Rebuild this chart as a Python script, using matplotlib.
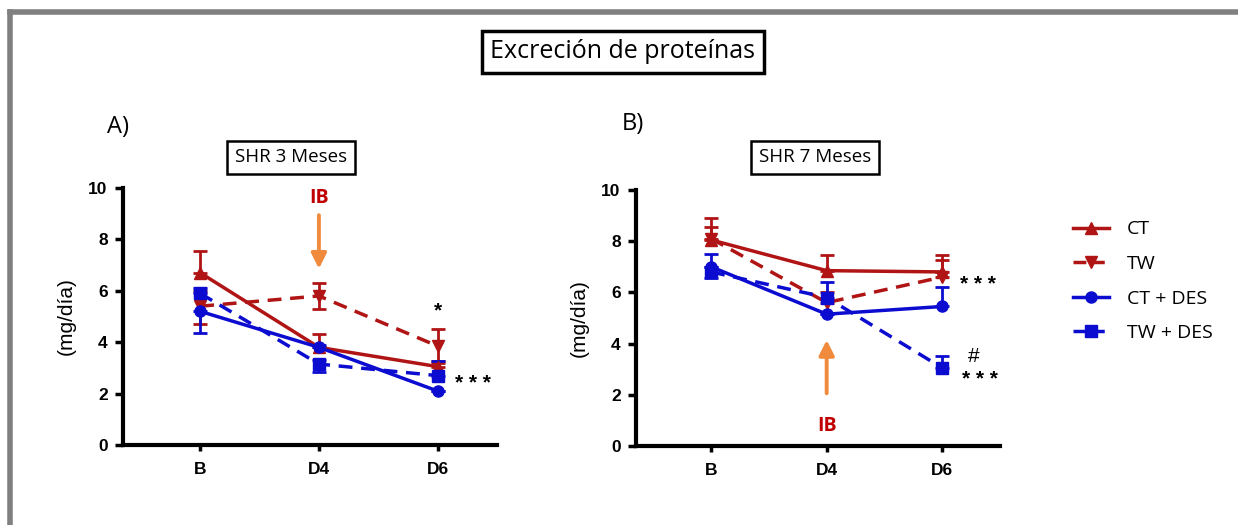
import numpy as np
import matplotlib.pyplot as plt
from matplotlib.lines import Line2D

W, H = 1238, 525
RED = "#b01414"
BLUE = "#0c0cd0"
ORANGE = "#f08a3c"

days = ["B", "D4", "D6"]
groups = ["CT", "TW", "CT + DES", "TW + DES"]

# panel A: SHR 3 meses
a_ct = [6.7, 3.8, 3.05]
a_ct_lo = [0.0, 0.0, 0.0]
a_ct_hi = [0.85, 0.5, 0.2]
a_tw = [5.4, 5.8, 3.85]
a_tw_lo = [0.7, 0.5, 0.65]
a_tw_hi = [0.6, 0.5, 0.65]
a_ctd = [5.2, 3.8, 2.1]
a_ctd_lo = [0.85, 0.0, 0.0]
a_ctd_hi = [0.0, 0.1, 0.0]
a_twd = [5.9, 3.15, 2.7]
a_twd_lo = [0.0, 0.3, 0.0]
a_twd_hi = [0.2, 0.15, 0.55]

# panel B: SHR 7 meses
b_ct = [8.05, 6.85, 6.8]
b_ct_lo = [0.0, 0.0, 0.0]
b_ct_hi = [0.85, 0.6, 0.65]
b_tw = [8.1, 5.6, 6.6]
b_tw_lo = [0.0, 0.0, 0.0]
b_tw_hi = [0.45, 0.4, 0.65]
b_ctd = [7.0, 5.15, 5.45]
b_ctd_lo = [0.0, 0.0, 0.0]
b_ctd_hi = [0.5, 0.0, 0.75]
b_twd = [6.8, 5.8, 3.05]
b_twd_lo = [0.25, 0.0, 0.0]
b_twd_hi = [0.2, 0.6, 0.45]

styles = [
    dict(color=RED, marker="^", ls="-"),
    dict(color=RED, marker="v", ls="--"),
    dict(color=BLUE, marker="o", ls="-"),
    dict(color=BLUE, marker="s", ls="--"),
]

plt.rcParams["font.family"] = ["Liberation Sans", "DejaVu Sans"]

fig = plt.figure(figsize=(W / 100, H / 100), dpi=100)
fig.patch.set_facecolor("white")


def fx(px):
    return px / W


def fy(py):
    return 1 - py / H


def draw_panel(ax, series):
    x = np.arange(len(days))
    for (vals, lo, hi), st in zip(series, styles):
        ax.errorbar(x, vals, yerr=[lo, hi], color=st["color"], marker=st["marker"],
                    ls=st["ls"], lw=2.5, ms=8, capsize=5, capthick=2, elinewidth=2,
                    dashes=(4, 2.5) if st["ls"] == "--" else (None, None))
    ax.set_ylim(0, 10)
    ax.set_xlim(-0.65, 2.5)
    ax.set_yticks([0, 2, 4, 6, 8, 10])
    ax.set_xticks(x)
    ax.set_xticklabels(days)
    for s in ["top", "right"]:
        ax.spines[s].set_visible(False)
    for s in ["left", "bottom"]:
        ax.spines[s].set_linewidth(3)
    ax.tick_params(axis="y", width=2.5, length=6, labelsize=12.5, pad=5)
    ax.tick_params(axis="x", width=2.5, length=4, labelsize=12.5, pad=8)
    for lab in ax.get_xticklabels() + ax.get_yticklabels():
        lab.set_fontweight("bold")
    ax.set_ylabel("(mg/día)", fontsize=15, labelpad=9)


axA = fig.add_axes([fx(123), fy(445), fx(497) - fx(123), fy(188) - fy(445)])
draw_panel(axA, [(a_ct, a_ct_lo, a_ct_hi), (a_tw, a_tw_lo, a_tw_hi),
                 (a_ctd, a_ctd_lo, a_ctd_hi), (a_twd, a_twd_lo, a_twd_hi)])
axB = fig.add_axes([fx(636), fy(446), fx(1000) - fx(636), fy(190) - fy(446)])
draw_panel(axB, [(b_ct, b_ct_lo, b_ct_hi), (b_tw, b_tw_lo, b_tw_hi),
                 (b_ctd, b_ctd_lo, b_ctd_hi), (b_twd, b_twd_lo, b_twd_hi)])

tfam = ["Open Sans", "DejaVu Sans"]

# IB arrows
axA.annotate("", xy=(1, 6.75), xytext=(1, 9.05),
             arrowprops=dict(arrowstyle="-|>,head_width=0.45,head_length=0.9",
                             color=ORANGE, lw=2.8))
axA.text(1, 9.6, "IB", color="#c00000", fontsize=14, fontweight="bold",
         ha="center", va="center", family=tfam)
axB.annotate("", xy=(1, 4.25), xytext=(1, 1.95),
             arrowprops=dict(arrowstyle="-|>,head_width=0.45,head_length=0.9",
                             color=ORANGE, lw=2.8))
axB.text(1, 0.8, "IB", color="#c00000", fontsize=14, fontweight="bold",
         ha="center", va="center", family=tfam)

# significance marks
sig = dict(fontsize=15, fontweight="bold", ha="center", va="center")
axA.text(2.0, 5.2, "*", **sig)
axA.text(2.3, 2.4, "* * *", **sig)
axB.text(2.31, 6.3, "* * *", **sig)
axB.text(2.27, 3.5, "#", fontsize=15, ha="center", va="center")
axB.text(2.33, 2.6, "* * *", **sig)

# titles and panel letters
fig.text(fx(623), fy(52), "Excreción de proteínas", fontsize=18, ha="center", va="center",
         family=tfam,
         bbox=dict(boxstyle="square,pad=0.35", fc="white", ec="black", lw=2.5))
fig.text(fx(291), fy(157), "SHR 3 Meses", fontsize=13.5, ha="center", va="center",
         family=tfam,
         bbox=dict(boxstyle="square,pad=0.4", fc="white", ec="black", lw=1.8))
fig.text(fx(815), fy(157), "SHR 7 Meses", fontsize=13.5, ha="center", va="center",
         family=tfam,
         bbox=dict(boxstyle="square,pad=0.4", fc="white", ec="black", lw=1.8))
fig.text(fx(107), fy(127), "A)", fontsize=17, ha="left", va="center", family=tfam)
fig.text(fx(622), fy(124), "B)", fontsize=17, ha="left", va="center", family=tfam)

# legend
handles = [Line2D([], [], color=st["color"], marker=st["marker"], ls=st["ls"],
                  lw=2.5, ms=8) for st in styles]
fig.legend(handles, groups, loc="upper left", bbox_to_anchor=(fx(1055), fy(203)),
           frameon=False, labelspacing=0.85, handlelength=1.9,
           handletextpad=0.9, prop={"family": tfam, "size": 14})

# grey frame
fig.add_artist(Line2D([fx(10), 1], [fy(12), fy(12)], color="#808080", lw=4))
fig.add_artist(Line2D([fx(10), fx(10)], [fy(12), 0], color="#808080", lw=4))

fig.savefig("out.png", dpi=100)
